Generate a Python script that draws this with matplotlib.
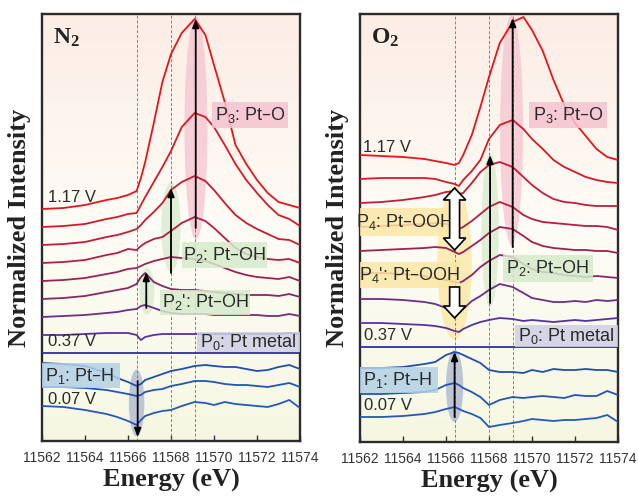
import matplotlib
matplotlib.use('Agg')
import matplotlib.pyplot as plt
import numpy as np
from matplotlib.patches import Ellipse, Rectangle, Polygon

plt.rcParams['font.family'] = ['Liberation Sans', 'DejaVu Sans']
plt.rcParams['mathtext.default'] = 'regular'

SERIF = ['Liberation Serif', 'DejaVu Serif']

# energy grid (eV), shared by all spectra
ENERGY = [11562, 11563, 11564, 11565, 11565.5, 11566, 11566.4, 11566.6, 11566.8,
          11567.2, 11567.6, 11568, 11568.5, 11569.1, 11569.6, 11570, 11570.5,
          11571, 11571.5, 11572, 11572.5, 11573, 11573.5, 11574]
XTICKS = [11562, 11564, 11566, 11568, 11570, 11572, 11574]
MARKER_LINES = [11566.4, 11568.0, 11569.1]

# ============================================
# N2 difference spectra (a.u.), 1.17 V -> 0.07 V
# ============================================
n2_117 = [0, 1, 4, 9, 11, 14, 18, 31, 47, 86, 127, 155, 176, 190, 174, 144, 107, 64, 45, 29, 16, 7, 4, 1]
n2_107 = [0, 1, 3, 8, 10, 13, 14, 22, 30, 45, 60, 76, 100, 114, 110, 100, 82, 63, 47, 34, 22, 12, 8, 1]
n2_097 = [0, 1, 3, 8, 10, 13, 16, 20, 25, 33, 42, 55, 63, 69, 64, 55, 42, 30, 22, 16, 11, 6, 5, 0]
n2_087 = [0, 1, 3, 8, 10, 14, 13, 17, 20, 24, 26, 32, 40, 46, 42, 35, 25, 15, 9, 6, 4, 3, 4, 0]
n2_077 = [0, 1, 3, 7, 9, 12, 13, 15, 17, 20, 22, 24, 23, 22, 20, 17, 13, 9, 6, 4, 3, 2, 4, 0]
n2_067 = [0, 1, 3, 7, 9, 11, 15, 22, 26, 17, 13, 10, 9, 9, 8, 7, 6, 5, 4, 4, 4, 3, 5, 2]
n2_057 = [0, 1, 2, 4, 5, 7, 8, 11, 12, 9, 6, 4, 3, 3, 3, 2, 2, 2, 2, 2, 1, 1, 3, 1]
n2_047 = [0, 0, 1, 2, 2, 2, 0, -5, -2, 0, 1, 1, 1, 1, 1, 1, 1, 1, 1, 1, 1, 1, 2, 1]
n2_037 = [0] * 24
n2_027 = [8, 7, 5, -2, -7, -11, -15, -13, -9, -6, -3, 0, 2, 5, 6, 5, 4, 4, 2, 0, 1, 4, 6, 2]
n2_017 = [2, 2, 1, -1, -3, -5, -7, -6, -3, -1, 0, 3, 5, 8, 8, 7, 5, 4, 4, 3, 2, 4, 6, 2]
n2_007 = [1, 0, -3, -7, -10, -14, -18, -13, -9, -6, -4, -3, 1, 5, 4, 2, 5, 3, 2, 1, 0, 3, 7, -1]

# ============================================
# O2 difference spectra (a.u.), 1.17 V -> 0.07 V
# ============================================
o2_117 = [0, -1, -2, -4, -6, -8, -10, -8, 0, 20, 48, 78, 112, 133, 138, 125, 104, 75, 50, 32, 19, 6, -2, -5]
o2_107 = [0, 1, 1, 1, 0, -3, -5, -7, -1, 8, 19, 40, 54, 59, 50, 40, 30, 19, 12, 7, 2, -1, -3, -4]
o2_097 = [0, 1, 3, 6, 8, 11, 12, 9, 10, 20, 31, 38, 41, 36, 26, 18, 10, 4, 1, 0, -2, -3, -3, -3]
o2_087 = [0, 1, 2, 3, 4, 3, 0, -2, 0, 6, 13, 20, 25, 20, 12, 8, 5, 4, 3, 2, 1, 1, 0, -3]
o2_077 = [0, 1, 2, 3, 4, 3, -1, -3, -1, 5, 11, 18, 24, 22, 15, 9, 5, 3, 2, 1, 1, 0, 0, -2]
o2_067 = [2, 2, 1, -1, -3, -5, -7, -8, -6, 0, 8, 14, 20, 18, 11, 6, 3, 2, 0, -1, -2, -1, -2, -3]
o2_057 = [0, 0, -1, -3, -5, -9, -13, -14, -10, -2, 3, 9, 15, 12, 6, 1, -1, -3, -3, -2, -3, -1, -2, -1]
o2_047 = [0, 0, -1, -2, -3, -5, -8, -9, -6, -2, 1, 3, 5, 4, 2, 3, 2, 1, 2, 3, 2, 3, 4, 5]
o2_037 = [0] * 24
o2_027 = [3, 3, 4, 7, 9, 16, 19, 18, 16, 12, 8, 1, -1, -1, -2, 1, -1, 2, 1, 1, 2, 1, 1, -1]
o2_017 = [1, 1, 2, 3, 5, 10, 12, 10, 7, 3, -2, -10, -5, -2, -3, -2, -1, -2, -3, 0, -1, -1, 4, 0]
o2_007 = [2, 2, 3, 5, 7, 10, 12, 10, 8, 5, 1, -8, -6, -4, -2, 0, -1, -2, -1, -1, 0, 1, 4, -3]

N2_CURVES = [n2_117, n2_107, n2_097, n2_087, n2_077, n2_067,
             n2_057, n2_047, n2_037, n2_027, n2_017, n2_007]
O2_CURVES = [o2_117, o2_107, o2_097, o2_087, o2_077, o2_067,
             o2_057, o2_047, o2_037, o2_027, o2_017, o2_007]

CURVE_COLORS = ['#e4161b', '#d51a27', '#c41c35', '#b11f44', '#9c2252', '#872862',
                '#6e2e86', '#5532a4', '#2f2f9f', '#1f4fae', '#2255b4', '#2459b8']

PINK, GREEN, YELLOW = '#f5c3d0', '#d6eacb', '#fbe7a6'
LAVENDER, LIGHTBLUE, GREYBLUE = '#cfcfe6', '#b3d0e6', '#a9b5cf'


def paint_background(ax, ylim):
    top = np.array([252, 237, 229]) / 255
    mid = np.array([254, 252, 246]) / 255
    bot = np.array([246, 247, 226]) / 255
    t = np.linspace(0, 1, 200)[:, None]
    col = np.where(t < 0.5, top + (mid - top) * (t / 0.5),
                   mid + (bot - mid) * ((t - 0.5) / 0.5))
    ax.imshow(col[:, None, :], extent=[11562, 11574, ylim[0], ylim[1]],
              aspect='auto', zorder=0)


def draw_spectra(ax, curves, step):
    for i, (vals, col) in enumerate(zip(curves, CURVE_COLORS)):
        offset = (8 - i) * step
        ax.plot(ENERGY, np.array(vals) + offset, color=col, lw=1.3, zorder=3)
    for e in MARKER_LINES:
        ax.axvline(e, color='#808080', lw=0.7, ls=(0, (3, 2)), zorder=2)


def blob(ax, x, y, w, h, color, alpha=0.75):
    ax.add_patch(Ellipse((x, y), w, h, fc=color, ec='none', alpha=alpha, zorder=1))


def label_box(ax, x0, x1, y0, y1, text, color):
    ax.add_patch(Rectangle((x0, y0), x1 - x0, y1 - y0, fc=color, ec='none',
                           alpha=0.85, zorder=5))
    ax.text((x0 + x1) / 2, (y0 + y1) / 2, text, ha='center', va='center',
            fontsize=13, color='#2a2a2a', zorder=6)


def arrow(ax, x, base, tip):
    ax.annotate('', xy=(x, tip), xytext=(x, base), zorder=7,
                arrowprops=dict(arrowstyle='-|>,head_length=0.5,head_width=0.2',
                                color='k', lw=1.3, shrinkA=0, shrinkB=0))


def hollow_arrow(ax, x, y0, y1, double=False, sw=0.23, hw=0.52, hl=12):
    # y0 = tail (or lower head if double), y1 = head
    d = 1 if y1 > y0 else -1
    pts = [(x, y1), (x + hw, y1 - d * hl), (x + sw, y1 - d * hl)]
    if double:
        pts += [(x + sw, y0 + d * hl), (x + hw, y0 + d * hl), (x, y0),
                (x - hw, y0 + d * hl), (x - sw, y0 + d * hl)]
    else:
        pts += [(x + sw, y0), (x - sw, y0)]
    pts += [(x - sw, y1 - d * hl), (x - hw, y1 - d * hl)]
    ax.add_patch(Polygon(pts, closed=True, fc='white', ec='k', lw=1.2, zorder=7))


def style_axes(ax, ylim):
    ax.set_xlim(11562, 11574)
    ax.set_ylim(*ylim)
    ax.set_yticks([])
    ax.set_xticks(XTICKS)
    ax.set_xticklabels([str(t) for t in XTICKS], fontsize=10, color='#333333')
    ax.tick_params(axis='x', direction='in', length=4, width=1, pad=7,
                   color='#333333')
    for sp in ax.spines.values():
        sp.set_linewidth(1.7)
        sp.set_color('#2b2b2b')
    ax.set_xlabel('Energy (eV)', family=SERIF, weight='bold', fontsize=19,
                  labelpad=3, color='#222222')
    ax.set_ylabel('Normalized Intensity', family=SERIF, weight='bold',
                  fontsize=19, labelpad=8, color='#222222')


fig = plt.figure(figsize=(6.38, 4.96), dpi=100)
ax1 = fig.add_axes([42 / 638, 1 - 441 / 496, 258 / 638, 427 / 496])
ax2 = fig.add_axes([360 / 638, 1 - 442 / 496, 258 / 638, 428 / 496])

# ---------------- N2 panel ----------------
ylim1 = (-88, 339)
paint_background(ax1, ylim1)
draw_spectra(ax1, N2_CURVES, 18)
blob(ax1, 11569.16, 225, 1.07, 223, PINK)
blob(ax1, 11568.0, 126, 0.9, 90, GREEN)
blob(ax1, 11566.88, 62, 0.7, 47, GREEN)
blob(ax1, 11566.4, -50, 0.72, 67, GREYBLUE)
arrow(ax1, 11569.15, 125, 334)
arrow(ax1, 11568.0, 80, 165)
arrow(ax1, 11566.85, 45, 81)
arrow(ax1, 11566.45, -28, -84)
label_box(ax1, 11569.91, 11573.44, 225, 251, r'P$_3$: Pt–O', PINK)
label_box(ax1, 11568.51, 11572.47, 85, 111, r'P$_2$: Pt–OH', GREEN)
label_box(ax1, 11567.49, 11571.67, 38, 63, r"P$_2$': Pt–OH", GREEN)
label_box(ax1, 11569.21, 11574.0, 1, 21, r'P$_0$: Pt metal', LAVENDER)
label_box(ax1, 11561.9, 11565.63, -35, -10, r'P$_1$: Pt–H', LIGHTBLUE)
ax1.text(11562.3, 156, '1.17 V', fontsize=12, va='center', color='#2a2a2a', zorder=6)
ax1.text(11562.3, 11, '0.37 V', fontsize=12, va='center', color='#2a2a2a', zorder=6)
ax1.text(11562.3, -47, '0.07 V', fontsize=12, va='center', color='#2a2a2a', zorder=6)
ax1.text(11562.5, 315, r'N$_2$', family=SERIF, weight='bold', fontsize=17,
         va='center', color='#222222', zorder=6)
style_axes(ax1, ylim1)

# ---------------- O2 panel ----------------
ylim2 = (-95, 333)
paint_background(ax2, ylim2)
draw_spectra(ax2, O2_CURVES, 24)
blob(ax2, 11569.05, 217, 1.07, 230, PINK)
blob(ax2, 11568.05, 117, 0.8, 154, GREEN)
blob(ax2, 11566.4, 84, 1.6, 153, YELLOW, alpha=0.8)
blob(ax2, 11566.4, -39, 0.8, 72, GREYBLUE)
arrow(ax2, 11569.1, 100, 329)
arrow(ax2, 11568.05, 44, 192)
arrow(ax2, 11566.4, -70, -5)
hollow_arrow(ax2, 11566.4, 97, 159, double=True)
hollow_arrow(ax2, 11566.4, 60, 29)
label_box(ax2, 11569.88, 11573.51, 219, 245, r'P$_3$: Pt–O', PINK)
label_box(ax2, 11568.67, 11572.82, 65, 92, r'P$_2$: Pt–OH', GREEN)
label_box(ax2, 11561.9, 11566.29, 111, 139, r'P$_4$: Pt–OOH', YELLOW)
label_box(ax2, 11561.9, 11566.66, 59, 85, r"P$_4$': Pt–OOH", YELLOW)
label_box(ax2, 11569.23, 11574.0, 0, 22, r'P$_0$: Pt metal', LAVENDER)
label_box(ax2, 11561.9, 11565.64, -46, -20, r'P$_1$: Pt–H', LIGHTBLUE)
ax2.text(11562.15, 200, '1.17 V', fontsize=12, va='center', color='#2a2a2a', zorder=6)
ax2.text(11562.2, 11, '0.37 V', fontsize=12, va='center', color='#2a2a2a', zorder=6)
ax2.text(11562.2, -58, '0.07 V', fontsize=12, va='center', color='#2a2a2a', zorder=6)
ax2.text(11562.5, 309, r'O$_2$', family=SERIF, weight='bold', fontsize=17,
         va='center', color='#222222', zorder=6)
style_axes(ax2, ylim2)

fig.savefig('out.png', dpi=100, facecolor='white')
